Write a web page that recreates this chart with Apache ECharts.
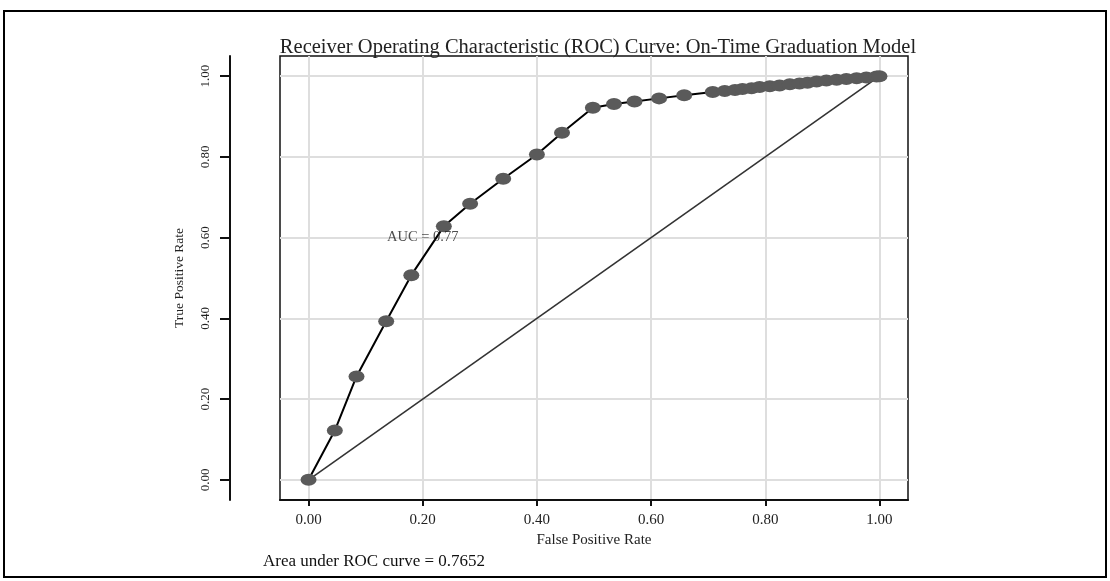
<!DOCTYPE html>
<html>
<head>
<meta charset="utf-8">
<script src="https://cdn.jsdelivr.net/npm/echarts@6/dist/echarts.min.js"></script>
<style>
html, body { margin: 0; padding: 0; background: #fff; }
#roc { width: 1110px; height: 581px; }
</style>
</head>
<body>
<div id="roc"></div>
<script>
// ROC points
var fpr = [0, 0.046, 0.084, 0.136, 0.180, 0.237, 0.283, 0.341, 0.400, 0.444, 0.498, 0.535, 0.571, 0.614, 0.658,
    0.708, 0.729, 0.747, 0.760, 0.776, 0.790, 0.808, 0.825, 0.843, 0.860, 0.874, 0.890, 0.907, 0.925, 0.942, 0.960, 0.977, 0.995, 1.0];
var tpr = [0, 0.122, 0.256, 0.393, 0.507, 0.628, 0.684, 0.746, 0.806, 0.860, 0.922, 0.931, 0.937, 0.945, 0.953,
    0.961, 0.963, 0.966, 0.968, 0.970, 0.973, 0.975, 0.977, 0.980, 0.982, 0.984, 0.987, 0.989, 0.991, 0.993, 0.995, 0.997, 0.999, 1.0];
var diagX = [0, 1];
var diagY = [0, 1];
var ticks = [0, 0.2, 0.4, 0.6, 0.8, 1.0];
var aucPos = [0.2, 0.6];
var aucText = 'AUC = 0.77';
var titleText = 'Receiver Operating Characteristic (ROC) Curve: On-Time Graduation Model';
var footText = 'Area under ROC curve = 0.7652';

var serif = "'Liberation Serif', 'Times New Roman', serif";
var chart = echarts.init(document.getElementById('roc'));

var rocData = fpr.map(function (x, i) { return [x, tpr[i]]; });
var diagData = diagX.map(function (x, i) { return [x, diagY[i]]; });

var fmt = function (v) { return v.toFixed(2); };

var option = {
    backgroundColor: '#fff',
    animation: false,
    title: [{
        text: titleText,
        left: 593,
        textAlign: 'center',
        top: 32,
        textStyle: { fontFamily: serif, fontWeight: 'normal', fontSize: 20.5, color: '#222' }
    }, {
        text: footText,
        left: 258,
        top: 548,
        textStyle: { fontFamily: serif, fontWeight: 'normal', fontSize: 17, color: '#111' }
    }],
    graphic: [{
        type: 'rect',
        shape: { x: 4, y: 11, width: 1102, height: 566 },
        style: { fill: 'none', stroke: '#000', lineWidth: 2 },
        silent: true
    }],
    grid: {
        left: 280, top: 56, right: 202, bottom: 81,
        show: true, borderColor: '#111', borderWidth: 1.5
    },
    xAxis: {
        type: 'value',
        min: -0.05, max: 1.05,
        name: 'False Positive Rate',
        nameLocation: 'middle',
        nameGap: 29,
        nameTextStyle: { fontFamily: serif, fontSize: 15, color: '#222' },
        axisLine: { show: true, onZero: false, lineStyle: { color: '#111', width: 2 } },
        axisTick: { show: true, length: 6, customValues: ticks, lineStyle: { color: '#111', width: 2 } },
        axisLabel: { customValues: ticks, formatter: fmt, margin: 13, fontFamily: serif, fontSize: 15, color: '#222' },
        splitLine: { show: true, lineStyle: { color: '#dedede', width: 2 } }
    },
    yAxis: {
        type: 'value',
        min: -0.05, max: 1.05,
        offset: 50,
        name: 'True Positive Rate',
        nameLocation: 'middle',
        nameRotate: 90,
        nameGap: 44,
        nameTextStyle: { fontFamily: serif, fontSize: 13.5, color: '#222' },
        axisLine: { show: true, onZero: false, lineStyle: { color: '#111', width: 2 } },
        axisTick: { show: true, length: 10, customValues: ticks, lineStyle: { color: '#111', width: 2 } },
        axisLabel: { customValues: ticks, formatter: fmt, rotate: 90, margin: 18, fontFamily: serif, fontSize: 13, color: '#222' },
        splitLine: { show: true, lineStyle: { color: '#dedede', width: 2 } }
    },
    series: [{
        type: 'line',
        data: diagData,
        symbol: 'none',
        lineStyle: { color: '#333', width: 1.6 },
        z: 2
    }, {
        type: 'line',
        data: rocData,
        symbol: 'circle',
        symbolSize: [16, 12],
        lineStyle: { color: '#000', width: 2 },
        itemStyle: { color: '#5a5a5a' },
        z: 3
    }, {
        type: 'scatter',
        data: [aucPos],
        symbolSize: 0,
        label: {
            show: true,
            position: 'inside',
            formatter: aucText,
            fontFamily: serif,
            fontSize: 14.5,
            color: '#222'
        },
        z: 4
    }]
};
chart.setOption(option);
</script>
</body>
</html>
